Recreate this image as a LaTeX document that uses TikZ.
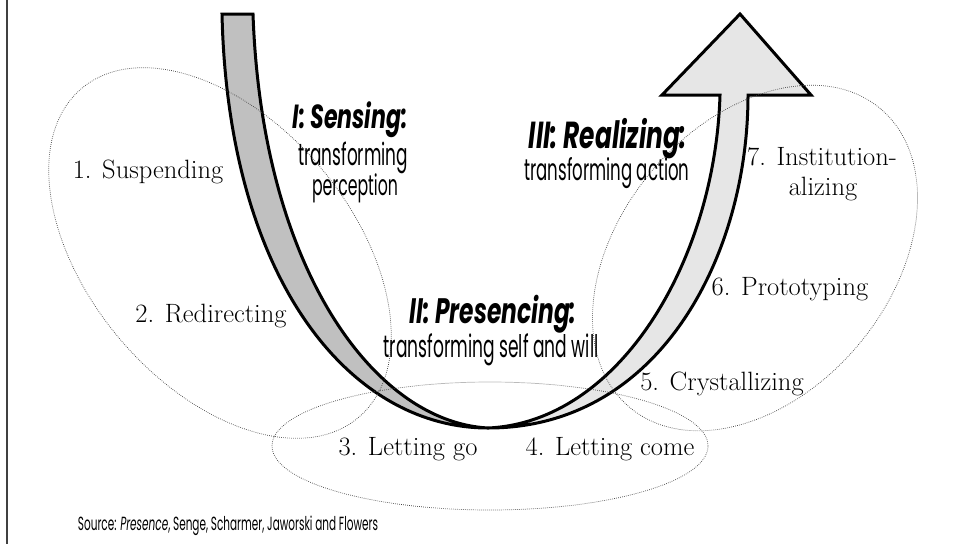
\documentclass[tikz,border=0pt]{standalone}
\usepackage{fontspec}
\usepackage{graphicx}
\newfontfamily\headfont[FakeStretch=0.66]{Poppins}
\newfontfamily\bodyfont[FakeStretch=0.55]{Poppins}
\newcommand{\hdtxt}[2]{\resizebox{#1pt}{!}{\headfont\bfseries\itshape #2}}
\newcommand{\bdtxt}[2]{\resizebox{#1pt}{!}{\bodyfont #2}}
\tikzset{
  band/.style={draw=black, line width=3pt, line join=miter, miter limit=10},
  dotell/.style={draw=black!75, line width=0.7pt, dash pattern=on 0.7pt off 1.3pt},
  serif/.style={font=\fontsize{26.5}{30}\selectfont, inner sep=0pt, anchor=base},
  sanstxt/.style={inner sep=0pt, anchor=base},
}
\begin{document}
\begin{tikzpicture}[x=1pt,y=-1pt]
\useasboundingbox (0,0) rectangle (963,544);
\fill[white] (0,0) rectangle (963,544);
\draw[line width=1.8pt, black!75] (7,0) -- (7,544);

% left band (descending)
\draw[band, fill={rgb,255:red,192;green,192;blue,192}]
  (222,14) .. controls (228,280) and (350,428) .. (488,428)
  .. controls (375,422) and (262,270) .. (253,14) -- cycle;
% right band with arrow head (ascending)
\draw[band, fill={rgb,255:red,230;green,230;blue,230}]
  (488,428) .. controls (660,428) and (748,255) .. (748,95)
  -- (811,95) -- (740,14) -- (662,95) -- (720,95)
  .. controls (715,260) and (620,422) .. (488,428) -- cycle;

% dotted ellipses
\draw[dotell, rotate around={-50:(220,253)}] (220,253) ellipse [x radius=215pt, y radius=132pt];
\draw[dotell] (490,446) ellipse [x radius=218pt, y radius=64pt];
\draw[dotell, rotate around={50:(755,258)}] (755,258) ellipse [x radius=195pt, y radius=135pt];

% serif labels
\node[serif] (s1) at (148,178) {1. Suspending};
\node[serif] (s2) at (211,322) {2. Redirecting};
\node[serif] (s3) at (408,455) {3. Letting go};
\node[serif] (s4) at (610,455) {4. Letting come};
\node[serif] (s5) at (722,390) {5. Crystallizing};
\node[serif] (s6) at (790,295) {6. Prototyping};
\node[serif] (s7a) at (822,165) {7. Institution-};
\node[serif] (s7b) at (823,195) {alizing};

% sans headings
\node[sanstxt] (h1) at (350,128) {\hdtxt{115}{I: Sensing:}};
\node[sanstxt] (h1a) at (353,165) {\bdtxt{110}{transforming}};
\node[sanstxt] (h1b) at (355,195) {\bdtxt{86}{perception}};
\node[sanstxt] (h2) at (493,323) {\hdtxt{167}{II: Presencing:}};
\node[sanstxt] (h2a) at (491,357) {\bdtxt{215}{transforming self and will}};
\node[sanstxt] (h3) at (608,148) {\hdtxt{158}{III: Realizing:}};
\node[sanstxt] (h3a) at (607,180) {\bdtxt{165}{transforming action}};

\node[sanstxt] (src) at (228,530) {\bdtxt{300}{Source: \textit{Presence}, Senge, Scharmer, Jaworski and Flowers}};
\end{tikzpicture}
\end{document}
